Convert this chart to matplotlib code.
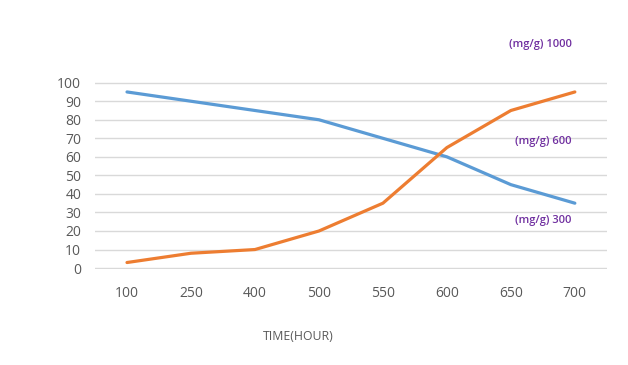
import matplotlib
matplotlib.use("Agg")
import matplotlib.pyplot as plt

hours = ["100", "250", "400", "500", "550", "600", "650", "700"]
blue_vals = [95, 90, 85, 80, 70, 60, 45, 35]
orange_vals = [3, 8, 10, 20, 35, 65, 85, 95]
yticks = list(range(0, 101, 10))

BLUE = "#5B9BD5"
ORANGE = "#ED7D31"
GRID = "#D9D9D9"
TICK = "#595959"
PURPLE = "#7030A0"

plt.rcParams["font.family"] = ["Open Sans", "DejaVu Sans"]

fig = plt.figure(figsize=(6.28, 3.65), dpi=100)
ax = fig.add_axes([0.1513, 0.263, 0.815, 0.513])

x = list(range(len(hours)))
ax.plot(x, blue_vals, color=BLUE, linewidth=2.3, solid_capstyle="round")
ax.plot(x, orange_vals, color=ORANGE, linewidth=2.3, solid_capstyle="round")

ax.set_xlim(-0.5, len(hours) - 0.5)
ax.set_yticks(yticks)
ax.set_xticks(x)
ax.set_xticklabels(hours)
ax.grid(axis="y", color=GRID, linewidth=1)
ax.set_axisbelow(True)
for s in ax.spines.values():
    s.set_visible(False)
ax.tick_params(length=0, colors=TICK, labelsize=10)
ax.tick_params(axis="y", pad=10)
ax.tick_params(axis="x", pad=12)
ax.set_ylim(-0.5, 100.5)

fig.text(298 / 628, 1 - 337 / 365, "TIME(HOUR)", color=TICK, fontsize=8.8,
         ha="center", va="center")

for label, px, py in [("(mg/g) 1000", 540, 44), ("(mg/g) 600", 543, 141),
                      ("(mg/g) 300", 543, 221)]:
    fig.text(px / 628, 1 - py / 365, label, color=PURPLE, fontsize=8,
             fontweight="semibold", ha="center", va="center")

fig.savefig("out.png", dpi=100)
